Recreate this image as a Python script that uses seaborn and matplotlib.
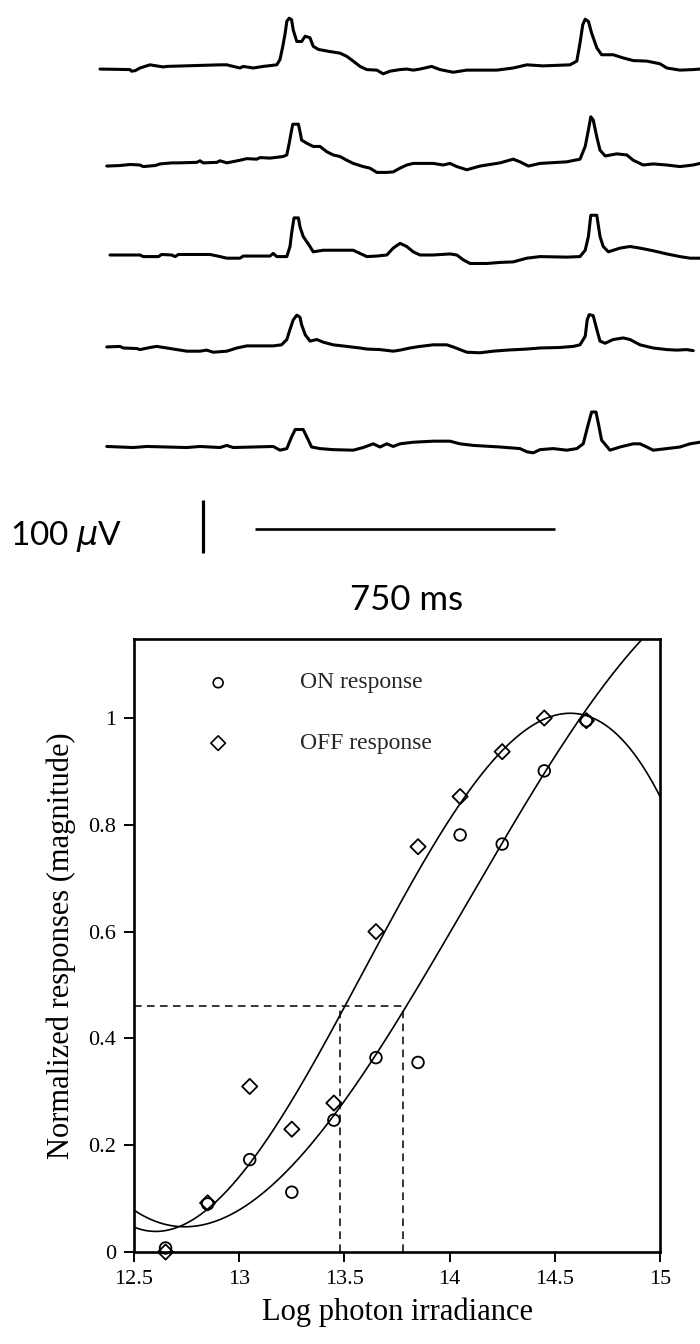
import numpy as np
import pandas as pd
import matplotlib
matplotlib.use("Agg")
import matplotlib.pyplot as plt
import seaborn as sns

# ---------------- data: ERG-like traces (time in ms, amplitude in microvolts) ----------------
trace1_ms = [0, 75, 79, 88, 100, 125, 133, 158, 167, 300, 317, 333, 350, 358, 383, 408, 442, 450, 457, 463,
             467, 473, 479, 483, 492, 504, 513, 525, 533, 546, 575, 600, 617, 633, 650, 667, 692, 708, 725,
             750, 767, 783, 800, 829, 850, 883, 917, 992, 1033, 1067, 1108, 1175, 1192, 1200, 1207, 1213,
             1221, 1229, 1242, 1254, 1283, 1308, 1333, 1367, 1400, 1417, 1450, 1483, 1500]
trace1_uv = [-2, -3, -6, -5, 0, 6, 5, 2, 3, 6, 6, 3, 0, 3, 0, 3, 6, 16, 41, 66,
             88, 94, 91, 72, 50, 50, 60, 57, 41, 35, 31, 28, 22, 13, 3, -3, -4, -11, -6,
             -3, -2, -4, -2, 3, -3, -8, -4, -4, 0, 6, 4, 6, 13, 47, 82, 92,
             88, 66, 38, 25, 25, 19, 14, 13, 8, 0, -4, -3, -2]

trace2_ms = [17, 50, 75, 100, 108, 138, 150, 179, 196, 242, 250, 258, 292, 300, 317, 350, 367, 392, 400, 425,
             458, 467, 473, 479, 482, 496, 500, 504, 517, 533, 550, 567, 583, 600, 617, 633, 658, 675, 692,
             717, 733, 750, 767, 783, 833, 858, 875, 892, 917, 950, 1000, 1033, 1050, 1071, 1100, 1167,
             1200, 1213, 1221, 1227, 1233, 1242, 1250, 1263, 1292, 1317, 1333, 1358, 1383, 1417, 1450,
             1483, 1500]
trace2_uv = [-2, -1, 1, 0, -3, -1, 2, 4, 4, 5, 8, 4, 5, 8, 4, 9, 12, 11, 14, 13,
             16, 19, 41, 66, 77, 77, 63, 47, 41, 35, 35, 25, 19, 16, 9, 3, -3, -6, -14,
             -14, -13, -6, 0, 3, 3, 0, 3, -3, -9, -2, 4, 11, 6, -2, 3, 6,
             11, 35, 66, 91, 85, 53, 28, 17, 21, 19, 9, 0, 2, 0, -3,
             0, 3]

trace3_ms = [25, 100, 108, 146, 154, 179, 188, 196, 275, 300, 317, 350, 358, 425, 433, 442, 467, 475, 479,
             485, 496, 500, 508, 525, 533, 558, 633, 650, 667, 692, 717, 733, 750, 767, 783, 800, 833, 875,
             892, 908, 925, 967, 1000, 1033, 1067, 1100, 1167, 1200, 1213, 1221, 1227, 1242, 1250, 1258,
             1271, 1300, 1325, 1350, 1383, 1417, 1450, 1475, 1500]
trace3_uv = [0, 0, -3, -3, 1, 0, -3, 1, 1, -3, -6, -6, -2, -2, 3, -3, -3, 16, 41,
             70, 70, 53, 35, 16, 6, 9, 9, 3, -3, -2, 0, 13, 22, 16, 6, 0, 0, 2,
             0, -9, -16, -16, -14, -13, -6, -3, -4, -3, 9, 35, 75, 75, 35, 16,
             6, 13, 16, 13, 8, 2, -3, -6, -6]

trace4_ms = [17, 50, 58, 92, 100, 125, 142, 167, 217, 250, 267, 283, 317, 342, 367, 433, 454, 467, 475, 483,
             492, 500, 504, 513, 525, 542, 558, 583, 617, 650, 667, 700, 733, 750, 775, 800, 833, 867, 883,
             917, 950, 983, 1017, 1067, 1100, 1150, 1183, 1200, 1213, 1218, 1223, 1233, 1242, 1250, 1263,
             1283, 1308, 1325, 1350, 1383, 1417, 1442, 1467, 1483]
trace4_uv = [2, 3, 0, -1, -3, 1, 3, 0, -6, -6, -4, -8, -6, 0, 4, 4, 6, 16, 35, 53,
             62, 58, 44, 25, 13, 16, 11, 6, 3, 0, -2, -3, -6, -4, 0, 3, 6, 6, 2,
             -8, -9, -6, -4, -2, 0, 1, 3, 6, 22, 53, 63, 61, 35, 13, 9,
             16, 19, 16, 6, 0, -3, -4, -3, -5]

trace5_ms = [17, 50, 83, 117, 167, 217, 250, 300, 317, 333, 383, 433, 450, 467, 479, 488, 508, 517, 529, 550,
             583, 633, 658, 683, 700, 717, 733, 750, 783, 833, 875, 900, 933, 1000, 1050, 1067, 1083, 1100,
             1133, 1167, 1192, 1208, 1221, 1229, 1240, 1246, 1254, 1275, 1300, 1333, 1350, 1367, 1383, 1417,
             1450, 1475, 1500]
trace5_uv = [1, 0, -1, 1, 0, -1, 1, -1, 3, -1, 0, 1, -6, -3, 19, 33, 33, 19, 0, -3,
             -5, -6, -1, 6, 0, 6, 1, 6, 9, 11, 11, 6, 3, 0, -3, -9, -11, -5,
             -3, -6, -3, 6, 44, 66, 66, 44, 13, -6, 0, 6, 6, 0, -6, -3,
             0, 6, 9]

scale_uv = 100     # vertical scale bar
scale_ms = 750     # horizontal scale bar / stimulus

# ---------------- data: intensity-response ----------------
irradiance = [12.65, 12.85, 13.05, 13.25, 13.45, 13.65, 13.85, 14.05, 14.25, 14.45, 14.65]
on_response = [0.0075, 0.09, 0.173, 0.112, 0.247, 0.364, 0.355, 0.781, 0.764, 0.901, 0.995]
off_response = [0.0, 0.092, 0.31, 0.23, 0.279, 0.60, 0.759, 0.853, 0.937, 1.0, 0.995]
criterion = 0.46
criterion_off_x = 13.48
criterion_on_x = 13.78
x_ticks = [12.5, 13, 13.5, 14, 14.5, 15]
x_tick_labels = ["12.5", "13", "13.5", "14", "14.5", "15"]
y_ticks = [0, 0.2, 0.4, 0.6, 0.8, 1]
y_tick_labels = ["0", "0.2", "0.4", "0.6", "0.8", "1"]

# ---------------- style ----------------
sns.set_theme(style="white")
plt.rcParams['font.family'] = ['Liberation Serif', 'DejaVu Serif']
plt.rcParams['mathtext.fontset'] = 'dejavusans'

W, H = 700, 1344
fig = plt.figure(figsize=(W / 100, H / 100), dpi=100)
fig.patch.set_facecolor('white')

# ---------------- top: traces ----------------
PX_UV = 1.887    # microvolts per pixel
PX_MS = 2.5      # ms per pixel
top_px = 625
ax_tr = fig.add_axes([0, (H - top_px) / H, 1, top_px / H])
ax_tr.set_xlim(-100 * PX_MS, (W - 100) * PX_MS)
ax_tr.set_ylim(-top_px * PX_UV, 0)
ax_tr.axis('off')

traces = [(trace1_ms, trace1_uv), (trace2_ms, trace2_uv), (trace3_ms, trace3_uv),
          (trace4_ms, trace4_uv), (trace5_ms, trace5_uv)]
baseline_px = [68, 165, 255, 348, 447]
for (t, v), b in zip(traces, baseline_px):
    df = pd.DataFrame({'t': t, 'v': np.asarray(v, float) - b * PX_UV})
    sns.lineplot(data=df, x='t', y='v', ax=ax_tr, color='black', linewidth=2.2,
                 sort=False, estimator=None)

# scale bars
vb_t = (203 - 100) * PX_MS
vb_bottom = -553 * PX_UV
ax_tr.plot([vb_t, vb_t], [vb_bottom, vb_bottom + scale_uv], color='black', lw=2.3,
           solid_capstyle='butt')
hb_t0 = (255 - 100) * PX_MS
hb_y = -529 * PX_UV
ax_tr.plot([hb_t0, hb_t0 + scale_ms], [hb_y, hb_y], color='black', lw=1.9,
           solid_capstyle='butt')
ax_tr.text((66 - 100) * PX_MS, -536 * PX_UV, f"{scale_uv} $\\mu$V", ha='center', va='center',
           fontsize=24, family=['Lato', 'DejaVu Sans'], color='black')
ax_tr.text(hb_t0 + scale_ms / 2 + 2 * PX_MS, -600 * PX_UV, f"{scale_ms} ms", ha='center',
           va='center', fontsize=25, family=['Lato', 'DejaVu Sans'], color='black')

# ---------------- bottom: intensity-response ----------------
ax_l, ax_r, ax_t, ax_b = 134, 660, 639, 1252
ax = fig.add_axes([ax_l / W, (H - ax_b) / H, (ax_r - ax_l) / W, (ax_b - ax_t) / H])
ax.set_xlim(12.5, 15)
ax.set_ylim(0, 1.148)

xs = np.linspace(12.5, 15, 400)
for resp in (on_response, off_response):
    coef = np.polyfit(irradiance, resp, 3)
    sns.lineplot(x=xs, y=np.polyval(coef, xs), ax=ax, color='black', linewidth=1.2,
                 sort=False, estimator=None)

dash = (0, (5, 3.5))
ax.plot([12.5, criterion_on_x], [criterion, criterion], color='black', lw=1.1, ls=dash)
ax.plot([criterion_off_x, criterion_off_x], [0, criterion], color='black', lw=1.1, ls=dash)
ax.plot([criterion_on_x, criterion_on_x], [0, criterion], color='black', lw=1.1, ls=dash)

df = pd.DataFrame({'x': irradiance, 'on': on_response, 'off': off_response})
sns.scatterplot(data=df, x='x', y='on', ax=ax, marker='o', s=70, facecolor='none',
                edgecolor='black', linewidth=1.3, zorder=5, clip_on=False)
sns.scatterplot(data=df, x='x', y='off', ax=ax, marker='D', s=60, facecolor='none',
                edgecolor='black', linewidth=1.3, zorder=5, clip_on=False)

# legend (hand-placed, as in the original)
ax.scatter([12.9], [1.066], marker='o', s=50, facecolor='none', edgecolor='black', linewidth=1.2)
ax.scatter([12.9], [0.953], marker='D', s=55, facecolor='none', edgecolor='black', linewidth=1.2)
ax.text(13.29, 1.066, "ON response", va='center', ha='left', fontsize=17)
ax.text(13.29, 0.953, "OFF response", va='center', ha='left', fontsize=17)

ax.set_xticks(x_ticks)
ax.set_xticklabels(x_tick_labels)
ax.set_yticks(y_ticks)
ax.set_yticklabels(y_tick_labels)
ax.tick_params(axis='both', direction='out', length=7, width=1.4, labelsize=16,
               colors='black', pad=6, bottom=True, left=True, top=False, right=False)
for sp in ax.spines.values():
    sp.set_visible(True)
    sp.set_color('black')
    sp.set_linewidth(1.9)
ax.set_xlabel("Log photon irradiance", fontsize=22, labelpad=6, color='black')
ax.set_ylabel("Normalized responses (magnitude)", fontsize=22, labelpad=9, color='black')
ax.grid(False)

fig.savefig("out.png", dpi=100, facecolor='white')
